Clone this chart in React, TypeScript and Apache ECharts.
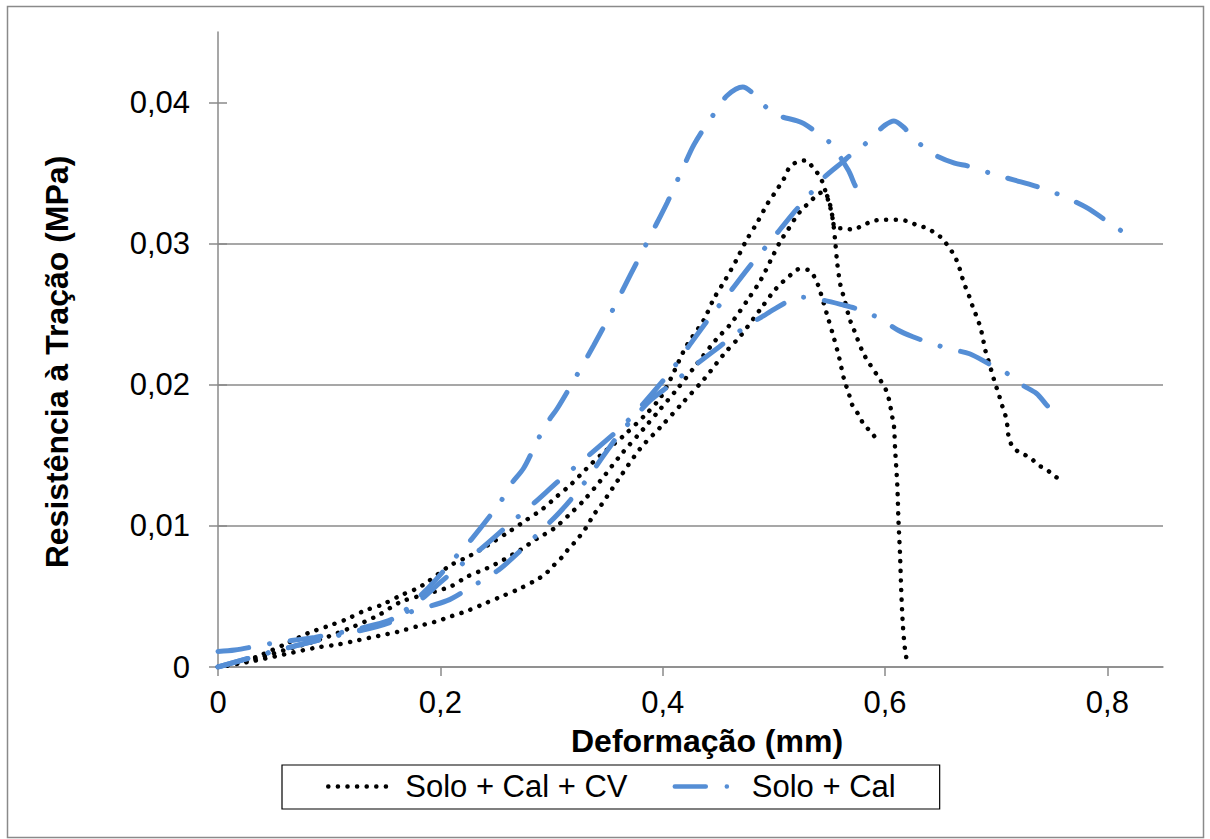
import React, { useEffect, useRef } from "react";
import * as echarts from "echarts";

// ---- axis ticks / names ----
const xTicks = [0, 0.2, 0.4, 0.6, 0.8];
const yTicks = [0, 0.01, 0.02, 0.03, 0.04];
const seriesNames = ["Solo + Cal + CV", "Solo + Cal"];
const xTitle = "Deformação (mm)";
const yTitle = "Resistência à Tração (MPa)";

// ---- Solo + Cal + CV (three specimens) ----
const cv1: number[][] = [
  [0, 0], [0.02, 0.0003], [0.04, 0.0009], [0.06, 0.0016], [0.081, 0.0024], [0.099, 0.0029],
  [0.116, 0.0034], [0.132, 0.004], [0.147, 0.0044], [0.165, 0.0051], [0.18, 0.0056], [0.188, 0.006],
  [0.209, 0.0072], [0.227, 0.0079], [0.242, 0.0086], [0.262, 0.0096], [0.277, 0.0104], [0.292, 0.0112],
  [0.305, 0.0121], [0.317, 0.0129], [0.332, 0.0141], [0.344, 0.015], [0.365, 0.0164], [0.386, 0.018],
  [0.398, 0.0191], [0.407, 0.0204], [0.421, 0.0227], [0.437, 0.0246], [0.446, 0.0261], [0.456, 0.0274],
  [0.466, 0.0288], [0.475, 0.0302], [0.485, 0.0315], [0.494, 0.0328], [0.5, 0.0335], [0.509, 0.0346],
  [0.514, 0.0354], [0.521, 0.0358], [0.529, 0.0359], [0.535, 0.0354], [0.541, 0.0348], [0.545, 0.0341],
  [0.547, 0.0335], [0.55, 0.0328], [0.553, 0.0317], [0.555, 0.0303], [0.557, 0.0286], [0.56, 0.027],
  [0.563, 0.0262], [0.568, 0.0247], [0.572, 0.0239], [0.58, 0.0223], [0.586, 0.0215], [0.596, 0.0203],
  [0.601, 0.0196], [0.604, 0.0188], [0.606, 0.0179], [0.608, 0.0171], [0.609, 0.0155], [0.611, 0.0129],
  [0.612, 0.0105], [0.6135, 0.0079], [0.6145, 0.0055], [0.616, 0.003], [0.618, 0.0012], [0.62, 0.0003],
];
const cv2: number[][] = [
  [0, 0], [0.03, 0.0005], [0.06, 0.0012], [0.09, 0.0019], [0.12, 0.0028], [0.145, 0.0037],
  [0.164, 0.0046], [0.184, 0.0051], [0.209, 0.0057], [0.224, 0.0064], [0.242, 0.007], [0.257, 0.0076],
  [0.272, 0.0083], [0.287, 0.0091], [0.302, 0.0098], [0.316, 0.0108], [0.329, 0.0118], [0.344, 0.0132],
  [0.363, 0.0151], [0.383, 0.0169], [0.397, 0.0182], [0.412, 0.0196], [0.431, 0.0215], [0.448, 0.0232],
  [0.461, 0.0243], [0.478, 0.0262], [0.488, 0.0274], [0.497, 0.0288], [0.506, 0.0302], [0.512, 0.0309],
  [0.52, 0.0319], [0.526, 0.0325], [0.532, 0.0329], [0.538, 0.0334], [0.545, 0.0337], [0.55, 0.0329],
  [0.553, 0.0318], [0.555, 0.0311], [0.562, 0.0311], [0.571, 0.031], [0.58, 0.0313], [0.589, 0.0316],
  [0.599, 0.0317], [0.61, 0.0317], [0.62, 0.0316], [0.629, 0.0313], [0.638, 0.0311], [0.644, 0.0308],
  [0.651, 0.0304], [0.656, 0.0299], [0.662, 0.0292], [0.666, 0.0285], [0.669, 0.0277], [0.672, 0.027],
  [0.676, 0.0262], [0.679, 0.0255], [0.683, 0.0247], [0.686, 0.024], [0.688, 0.0233], [0.69, 0.0225],
  [0.693, 0.0217], [0.696, 0.0209], [0.699, 0.0201], [0.702, 0.0194], [0.705, 0.0186], [0.708, 0.0179],
  [0.71, 0.0171], [0.711, 0.0164], [0.714, 0.0157], [0.719, 0.0153], [0.724, 0.0151], [0.731, 0.0148],
  [0.738, 0.0143], [0.745, 0.014], [0.753, 0.0135], [0.761, 0.0131],
];
const cv3: number[][] = [
  [0, 0], [0.03, 0.0004], [0.06, 0.0009], [0.09, 0.0014], [0.108, 0.0016], [0.126, 0.0019],
  [0.144, 0.0022], [0.162, 0.0025], [0.18, 0.0029], [0.195, 0.0032], [0.21, 0.0036], [0.225, 0.004],
  [0.24, 0.0045], [0.255, 0.005], [0.27, 0.0055], [0.287, 0.0062], [0.2946, 0.0066], [0.302, 0.0072],
  [0.3096, 0.0078], [0.3156, 0.0084], [0.3216, 0.0089], [0.3276, 0.0095], [0.3321, 0.01], [0.338, 0.0108],
  [0.344, 0.0114], [0.362, 0.0135], [0.38, 0.0155], [0.398, 0.017], [0.4177, 0.0187], [0.4372, 0.0204],
  [0.4553, 0.0222], [0.4703, 0.0235], [0.4883, 0.0254], [0.5018, 0.0268], [0.5153, 0.0278], [0.5228, 0.0282],
  [0.532, 0.0281], [0.538, 0.0274], [0.5417, 0.0266], [0.5477, 0.025], [0.5537, 0.0234], [0.5588, 0.0219],
  [0.5634, 0.0203], [0.567, 0.0195], [0.5703, 0.0186], [0.576, 0.0179], [0.5808, 0.0172], [0.5868, 0.0167],
  [0.5928, 0.0161],
];

// ---- Solo + Cal (three specimens) ----
const cal1: number[][] = [
  [0, 0], [0.045, 0.001], [0.1, 0.0021], [0.156, 0.0033], [0.18, 0.0049], [0.195, 0.0061],
  [0.216, 0.008], [0.2285, 0.0091], [0.254, 0.0117], [0.263, 0.0129], [0.275, 0.0141], [0.287, 0.016],
  [0.296, 0.0173], [0.305, 0.0183], [0.32, 0.0203], [0.338, 0.0228], [0.353, 0.025], [0.371, 0.0278],
  [0.386, 0.0301], [0.395, 0.0315], [0.404, 0.0329], [0.419, 0.0355], [0.428, 0.037], [0.439, 0.0384],
  [0.448, 0.0394], [0.458, 0.0405], [0.472, 0.0411], [0.482, 0.0406], [0.494, 0.0396], [0.503, 0.0391],
  [0.521, 0.0387], [0.527, 0.0385], [0.54, 0.0378], [0.551, 0.0371], [0.567, 0.0352], [0.572, 0.0343],
  [0.58, 0.033],
];
const cal2: number[][] = [
  [0, 0], [0.045, 0.001], [0.1, 0.0021], [0.156, 0.0032], [0.18, 0.0046], [0.2, 0.006],
  [0.218, 0.0072], [0.2354, 0.0083], [0.2646, 0.0103], [0.2826, 0.0115], [0.3066, 0.0132], [0.32, 0.0141],
  [0.344, 0.0157], [0.368, 0.0174], [0.4057, 0.0208], [0.4222, 0.0226], [0.4417, 0.0247], [0.4597, 0.0265],
  [0.4793, 0.0285], [0.4973, 0.0302], [0.5168, 0.0321], [0.5303, 0.0333], [0.5453, 0.0347], [0.5619, 0.0358],
  [0.5709, 0.0364], [0.5784, 0.0368], [0.5889, 0.0376], [0.6, 0.0384], [0.608, 0.0387], [0.6174, 0.0382],
  [0.6234, 0.0376], [0.6324, 0.037], [0.6444, 0.0363], [0.6625, 0.0357], [0.6745, 0.0355], [0.6985, 0.0349],
  [0.7165, 0.0345], [0.7345, 0.0341], [0.7495, 0.0337], [0.7676, 0.0331], [0.7826, 0.0325], [0.7976, 0.0317],
  [0.8126, 0.0309], [0.8201, 0.0304],
];
const cal3: number[][] = [
  [0, 0.0011], [0.015, 0.0012], [0.05, 0.0017], [0.087, 0.0021], [0.12, 0.0026], [0.15, 0.0032],
  [0.173, 0.0039], [0.206, 0.0047], [0.224, 0.0055], [0.251, 0.0068], [0.266, 0.0078], [0.29, 0.0096],
  [0.31, 0.0112], [0.331, 0.0132], [0.347, 0.015], [0.362, 0.0166], [0.389, 0.0189], [0.407, 0.02],
  [0.431, 0.0215], [0.451, 0.0227], [0.476, 0.0242], [0.491, 0.0249], [0.497, 0.0252], [0.515, 0.026],
  [0.526, 0.0262], [0.544, 0.026], [0.56, 0.0257], [0.578, 0.0253], [0.595, 0.0247], [0.611, 0.0239],
  [0.625, 0.0234], [0.643, 0.0229], [0.66, 0.0225], [0.676, 0.0222], [0.693, 0.0215], [0.708, 0.0209],
  [0.723, 0.02], [0.736, 0.0194], [0.745, 0.0186], [0.754, 0.0178],
];

const FONT = '"Liberation Sans", Arial, Helvetica, sans-serif';
const GRAY = "#8a8a8a";

export default function App() {
  const ref = useRef<HTMLDivElement>(null);
  useEffect(() => {
    document.body.style.margin = "0";
    const chart = echarts.init(ref.current as HTMLDivElement, null, { renderer: "svg" });
    const fmt = (v: number) => String(v).replace(".", ",");
    const black = { color: "#000000", width: 4.5, type: [0.1, 9.5], cap: "round" };
    const blue = { color: "#558ED5", width: 5, type: [31, 21, 0.1, 21], cap: "round" };
    const mk = (name: string, data: number[][], ls: any, z: number) => ({
      type: "line",
      name,
      data,
      showSymbol: false,
      symbol: "none",
      smooth: 0.3,
      lineStyle: ls,
      itemStyle: { color: ls.color },
      emphasis: { disabled: true },
      z,
    });
    chart.setOption({
      animation: false,
      backgroundColor: "#ffffff",
      textStyle: { fontFamily: FONT },
      grid: { left: 218, right: 47, top: 32, bottom: 172 },
      xAxis: {
        type: "value",
        min: 0,
        max: 0.85,
        interval: 0.2,
        axisLine: { show: true, lineStyle: { color: GRAY, width: 1.5 } },
        axisTick: { show: true, length: 9, customValues: xTicks, lineStyle: { color: GRAY, width: 1.5 } },
        axisLabel: { customValues: xTicks, formatter: fmt, fontSize: 31, color: "#000", margin: 20, fontFamily: FONT },
        splitLine: { show: false },
      },
      yAxis: [
        {
          type: "value",
          min: 0,
          max: 0.045,
          interval: 0.01,
          axisLine: { show: true, lineStyle: { color: GRAY, width: 1.5 } },
          axisTick: { show: true, length: 9, customValues: yTicks, lineStyle: { color: GRAY, width: 1.5 } },
          axisLabel: { customValues: yTicks, formatter: fmt, fontSize: 31, color: "#000", margin: 28, fontFamily: FONT },
          splitLine: { show: true, showMaxLine: false, lineStyle: { color: GRAY, width: 1.5 } },
        },
        {
          type: "value",
          position: "left",
          offset: 0,
          min: 0,
          max: 0.045,
          interval: 0.01,
          axisLine: { show: false },
          axisTick: { show: true, inside: true, length: 9, customValues: yTicks, lineStyle: { color: GRAY, width: 1.5 } },
          axisLabel: { show: false },
          splitLine: { show: false },
        },
      ],
      legend: {
        data: seriesNames,
        left: 282,
        top: 765,
        padding: [6, 44, 7, 44],
        itemGap: 45,
        itemWidth: 63,
        itemHeight: 14,
        borderColor: "#000",
        borderWidth: 1.2,
        borderRadius: 0,
        backgroundColor: "#fff",
        selectedMode: false,
        itemStyle: { color: "rgba(0,0,0,0)", borderColor: "rgba(0,0,0,0)", borderWidth: 0 },
        lineStyle: { width: 4.5 },
        textStyle: { fontSize: 31, color: "#000", fontFamily: FONT, padding: [0, 0, 0, 9] },
      },
      graphic: [
        {
          type: "rect",
          silent: true,
          shape: { x: 7.5, y: 6.5, width: 1196, height: 831 },
          style: { fill: "none", stroke: GRAY, lineWidth: 1.5 },
        },
        {
          type: "text",
          x: 707,
          y: 741,
          silent: true,
          style: { text: xTitle, font: `bold 32px ${FONT}`, fill: "#000", textAlign: "center", textVerticalAlign: "middle" },
        },
        {
          type: "text",
          x: 57,
          y: 362,
          rotation: Math.PI / 2,
          silent: true,
          style: { text: yTitle, font: `bold 32px ${FONT}`, fill: "#000", textAlign: "center", textVerticalAlign: "middle" },
        },
      ],
      series: [
        mk(seriesNames[0], cv1, black, 2),
        mk(seriesNames[0], cv2, black, 2),
        mk(seriesNames[0], cv3, black, 2),
        mk(seriesNames[1], cal1, blue, 3),
        mk(seriesNames[1], cal2, blue, 3),
        mk(seriesNames[1], cal3, blue, 3),
      ],
    });
    return () => chart.dispose();
  }, []);
  return <div ref={ref} style={{ position: "absolute", left: 0, top: 0, width: 1210, height: 839 }} />;
}
